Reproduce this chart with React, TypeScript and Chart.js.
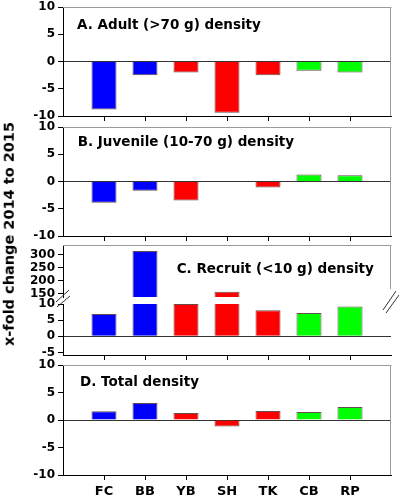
import React, { useEffect, useRef } from 'react';
import { Chart, registerables } from 'chart.js';

Chart.register(...registerables);

// ---------- data ----------
const categories = ['FC', 'BB', 'YB', 'SH', 'TK', 'CB', 'RP'];
const adultDensity = [-8.8, -2.5, -2.0, -9.4, -2.5, -1.7, -2.0];
const juvenileDensity = [-3.9, -1.7, -3.5, 0, -1.1, 1.3, 1.15];
const recruitDensity = [6.9, 313, 10, 157, 8.1, 7.2, 9.2];
const totalDensity = [1.57, 3.07, 1.27, -1.2, 1.63, 1.45, 2.35];
const barColors = ['#0000ff', '#0000ff', '#ff0000', '#ff0000', '#ff0000', '#00ff00', '#00ff00'];
const ticksStandard = [-10, -5, 0, 5, 10];
const ticksRecruitUpper = [150, 200, 250, 300];
const ticksRecruitLower = [-5, 0, 5, 10];
const panelTitles = ['A. Adult (>70 g) density', 'B. Juvenile (10-70 g) density', 'C. Recruit (<10 g) density', 'D. Total density'];
const yAxisTitle = 'x-fold change 2014 to 2015';

// ---------- layout ----------
const W = 399;
const H = 499;
const FONT = "'DejaVu Sans', sans-serif";

type Panel = {
  values: number[];
  top: number;
  bottom: number;
  min: number;
  max: number;
  yTicks: number[];
  xAxis: boolean;
  xLabels: boolean;
  frameTop: boolean;
  frameRightTo: number | null;
  breaks: boolean;
};

const panels: Panel[] = [
  { values: adultDensity, top: 7, bottom: 116, min: -10, max: 10, yTicks: ticksStandard, xAxis: true, xLabels: false, frameTop: true, frameRightTo: 116, breaks: false },
  { values: juvenileDensity, top: 127, bottom: 236, min: -10, max: 10, yTicks: ticksStandard, xAxis: true, xLabels: false, frameTop: true, frameRightTo: 236, breaks: false },
  { values: recruitDensity, top: 245, bottom: 297, min: 137, max: 336, yTicks: ticksRecruitUpper, xAxis: false, xLabels: false, frameTop: true, frameRightTo: 289, breaks: false },
  { values: recruitDensity, top: 304, bottom: 355, min: -5.8, max: 10, yTicks: ticksRecruitLower, xAxis: true, xLabels: false, frameTop: false, frameRightTo: null, breaks: true },
  { values: totalDensity, top: 365, bottom: 475, min: -10, max: 10, yTicks: ticksStandard, xAxis: true, xLabels: true, frameTop: true, frameRightTo: 475, breaks: false },
];

const titlePos = [
  { left: 77, top: 17.6 },
  { left: 77.7, top: 135.3 },
  { left: 176.7, top: 261.9 },
  { left: 80, top: 375.3 },
];

function makeChart(canvas: HTMLCanvasElement, p: Panel) {
  const labels = ['', ...categories, ''];
  const data = [null, ...p.values, null];
  const colors = ['rgba(0,0,0,0)', ...barColors, 'rgba(0,0,0,0)'];
  const xH = p.xAxis ? (p.xLabels ? H - p.bottom : 10) : 0;
  const padBottom = H - p.bottom - xH;

  const framePlugin = {
    id: 'frame',
    afterDraw(chart: any) {
      const ctx = chart.ctx;
      const a = chart.chartArea;
      ctx.save();
      ctx.strokeStyle = '#9a9a9a';
      ctx.lineWidth = 1;
      ctx.beginPath();
      if (p.frameTop) {
        ctx.moveTo(a.left, Math.round(a.top) + 0.5);
        ctx.lineTo(a.right + 0.5, Math.round(a.top) + 0.5);
      }
      if (p.frameRightTo !== null) {
        ctx.moveTo(Math.round(a.right) - 0.5, a.top);
        ctx.lineTo(Math.round(a.right) - 0.5, p.frameRightTo);
      }
      ctx.stroke();
      if (p.breaks) {
        ctx.strokeStyle = '#333';
        ctx.beginPath();
        ctx.moveTo(56, 302); ctx.lineTo(69, 290);
        ctx.moveTo(57, 307); ctx.lineTo(70, 296);
        ctx.moveTo(383, 310); ctx.lineTo(396, 291);
        ctx.moveTo(386, 313); ctx.lineTo(399, 295);
        ctx.stroke();
      }
      ctx.restore();
    },
  };

  return new Chart(canvas, {
    type: 'bar',
    data: {
      labels,
      datasets: [
        {
          data: data as any,
          backgroundColor: colors,
          borderColor: 'rgba(40,0,0,0.7)',
          borderWidth: 1,
          barPercentage: 0.61,
          categoryPercentage: 1,
        },
      ],
    },
    options: {
      responsive: false,
      animation: false,
      events: [],
      layout: { padding: { left: 0, right: 8, top: p.top, bottom: padBottom } },
      plugins: { legend: { display: false }, tooltip: { enabled: false }, title: { display: false } },
      scales: {
        x: {
          display: p.xAxis,
          offset: false,
          grid: {
            offset: false,
            drawOnChartArea: false,
            tickLength: 5,
            color: '#000',
            tickColor: (ctx: any) => (ctx.index === 0 || ctx.index === 8 ? 'rgba(0,0,0,0)' : '#000'),
          },
          border: { display: true, color: '#000', width: 1 },
          ticks: {
            autoSkip: false,
            maxRotation: 0,
            minRotation: 0,
            padding: 4,
            color: '#000',
            font: { family: FONT, weight: 'bold', size: 13 },
            callback: (_v: any, i: number) => (p.xLabels ? labels[i] : ''),
          },
          afterFit: (s: any) => {
            s.height = xH;
            s.paddingLeft = 0;
            s.paddingRight = 0;
          },
        },
        y: {
          min: p.min,
          max: p.max,
          afterBuildTicks: (s: any) => {
            s.ticks = p.yTicks.map((v) => ({ value: v }));
          },
          grid: {
            color: (ctx: any) => (ctx.tick && ctx.tick.value === 0 ? '#333' : 'rgba(0,0,0,0)'),
            tickColor: '#000',
            tickLength: 5,
          },
          border: { display: true, color: '#000', width: 1 },
          ticks: {
            autoSkip: false,
            padding: 3,
            color: '#000',
            font: { family: FONT, weight: 'bold', size: 12 },
          },
          afterFit: (s: any) => {
            s.width = 63;
            s.paddingTop = 0;
            s.paddingBottom = 0;
          },
        },
      },
    },
    plugins: [framePlugin],
  } as any);
}

function PanelCanvas({ panel }: { panel: Panel }) {
  const ref = useRef<HTMLCanvasElement | null>(null);
  useEffect(() => {
    if (!ref.current) return;
    const chart = makeChart(ref.current, panel);
    return () => chart.destroy();
  }, [panel]);
  return (
    <canvas
      ref={ref}
      width={W}
      height={H}
      style={{ position: 'absolute', left: 0, top: 0, width: W, height: H }}
    />
  );
}

export default function App() {
  return (
    <div style={{ position: 'absolute', left: 0, top: 0, width: W, height: H, background: '#fff', overflow: 'hidden' }}>
      {panels.map((p, i) => (
        <PanelCanvas key={i} panel={p} />
      ))}
      {panelTitles.map((t, i) => (
        <div
          key={t}
          style={{
            position: 'absolute',
            left: titlePos[i].left,
            top: titlePos[i].top,
            fontFamily: FONT,
            fontWeight: 'bold',
            fontSize: 13.5,
            lineHeight: 1,
            whiteSpace: 'nowrap',
            color: '#000',
          }}
        >
          {t}
        </div>
      ))}
      <div
        style={{
          position: 'absolute',
          left: 9.3,
          top: 234,
          transform: 'translate(-50%, -50%) rotate(-90deg)',
          fontFamily: FONT,
          fontWeight: 'bold',
          fontSize: 14.5,
          lineHeight: 1,
          whiteSpace: 'nowrap',
          color: '#000',
        }}
      >
        {yAxisTitle}
      </div>
    </div>
  );
}
